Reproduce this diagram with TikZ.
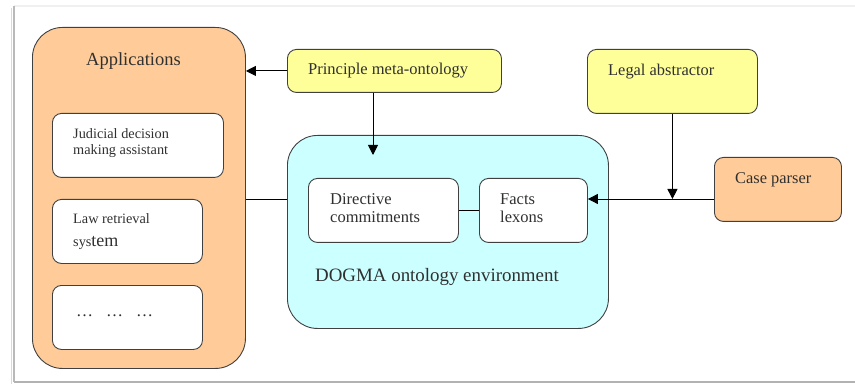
\documentclass[tikz,border=0pt]{standalone}
\usepackage{fontspec}
\setmainfont{Liberation Serif}
\usetikzlibrary{arrows.meta}
\definecolor{peach}{HTML}{FFCC99}
\definecolor{paleyellow}{HTML}{FFFF99}
\definecolor{palecyan}{HTML}{CCFFFF}
\definecolor{edge}{HTML}{404040}
\definecolor{ink}{HTML}{303030}
\tikzset{
  panel/.style={draw=edge, line width=0.9pt, anchor=north west, inner sep=0pt},
  bigpanel/.style={panel, rounded corners=30pt},
  smallpanel/.style={panel, rounded corners=9pt},
  label/.style={anchor=north west, inner sep=0pt, align=left, text=ink},
  link/.style={draw=black, line width=0.9pt},
  arrowlink/.style={link, -{Triangle[length=10pt,width=10pt]}},
}
\begin{document}
\begin{tikzpicture}[x=1pt,y=-1pt]
\useasboundingbox (0,0) rectangle (855,385);
% page frame with its shadow
\draw[gray!12, line width=1.2pt] (14,6) -- (855,6);
\draw[gray!55, line width=1.6pt] (14,6) -- (14,382);
\draw[gray!30, line width=1pt] (11,8) -- (11,384);
\draw[gray!60, line width=2pt] (14,382) -- (855,382);

% applications column
\node[bigpanel, fill=peach, minimum width=213pt, minimum height=341pt] (apps) at (32,27) {};
\node[label, font=\fontsize{18.5}{20}\selectfont] (appsT) at (86,52) {Applications};
\node[smallpanel, fill=white, minimum width=171pt, minimum height=64pt] (jdm) at (52,113) {};
\node[label, font=\fontsize{14.3}{16.5}\selectfont] (jdmT) at (73,128) {Judicial decision\\making assistant};
\node[smallpanel, fill=white, minimum width=150pt, minimum height=64pt] (lrs) at (52,199) {};
\node[label, font=\fontsize{14.3}{23}\selectfont] (lrsT) at (73,213) {Law retrieval\\sys{\fontsize{18}{23}\selectfont tem}};
\node[smallpanel, fill=white, minimum width=150pt, minimum height=64pt] (more) at (52,285) {};
\node[label, font=\fontsize{17}{20}\selectfont] (moreT) at (76,315) {\ldots\hspace{13pt}\ldots\hspace{13pt}\ldots};

% principle meta-ontology
\node[smallpanel, fill=paleyellow, minimum width=214pt, minimum height=43pt] (pmo) at (287,49) {};
\node[label, font=\fontsize{16.5}{19}\selectfont] (pmoT) at (308,63) {Principle meta-ontology};

% DOGMA environment
\node[bigpanel, fill=palecyan, minimum width=321pt, minimum height=193pt] (dogma) at (287,135) {};
\node[smallpanel, fill=white, minimum width=150pt, minimum height=64pt] (dir) at (308,178) {};
\node[label, font=\fontsize{16.5}{18}\selectfont] (dirT) at (330,193) {Directive\\commitments};
\node[smallpanel, fill=white, minimum width=108pt, minimum height=64pt] (facts) at (479,178) {};
\node[label, font=\fontsize{16.5}{18}\selectfont] (factsT) at (500,193) {Facts\\lexons};
\node[label, font=\fontsize{18.9}{21}\selectfont] (dogmaT) at (315,268) {DOGMA ontology environment};

% legal abstractor and case parser
\node[smallpanel, fill=paleyellow, minimum width=170pt, minimum height=64pt] (legal) at (587,49) {};
\node[label, font=\fontsize{16.4}{19}\selectfont] (legalT) at (608,64) {Legal abstractor};
\node[smallpanel, fill=peach, minimum width=127pt, minimum height=64pt] (case) at (714,157) {};
\node[label, font=\fontsize{16.4}{19}\selectfont] (caseT) at (735,172) {Case parser};

% connectors
\coordinate (bus) at (0,199);
\coordinate (pmoDrop) at (373,155);
\draw[arrowlink] (pmo.west) -- (apps.east |- pmo.west);
\draw[arrowlink] (pmoDrop |- pmo.south) -- (pmoDrop);
\draw[link] (apps.east |- bus) -- (dogma.west |- bus);
\draw[link] (dir.east) -- (facts.west);
\draw[arrowlink] (case.west |- bus) -- (facts.east |- bus);
\draw[arrowlink] (legal.south) -- (legal.south |- bus);
\end{tikzpicture}
\end{document}
